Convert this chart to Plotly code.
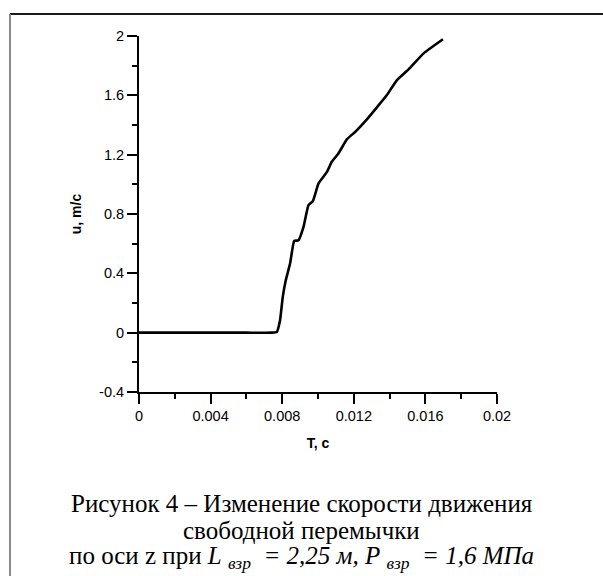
import plotly.graph_objects as go

# Velocity of the free bulkhead along the z axis over time
t_s = [0.0, 0.002, 0.004, 0.006, 0.0074, 0.0077, 0.00788, 0.00803, 0.0082, 0.00844,
       0.00867, 0.00891, 0.00919, 0.00947, 0.00971, 0.01003, 0.0105, 0.01077,
       0.01114, 0.01161, 0.01208, 0.01273, 0.01329, 0.01385, 0.01441, 0.01506,
       0.0159, 0.01698]
u_ms = [0.0, 0.0, 0.0, 0.0, 0.0, 0.005, 0.083, 0.24, 0.353, 0.466,
        0.618, 0.623, 0.713, 0.86, 0.886, 1.006, 1.084, 1.152,
        1.208, 1.303, 1.354, 1.438, 1.519, 1.602, 1.703, 1.775,
        1.883, 1.978]

x_ticks = [0, 0.004, 0.008, 0.012, 0.016, 0.02]
x_tick_text = ["0", "0.004", "0.008", "0.012", "0.016", "0.02"]
y_ticks = [-0.4, 0, 0.4, 0.8, 1.2, 1.6, 2]
y_tick_text = ["-0.4", "0", "0.4", "0.8", "1.2", "1.6", "2"]

caption_lines = [
    "Рисунок 4 – Изменение скорости движения",
    "свободной перемычки",
    "по оси z при <i>L</i>&nbsp;<sub><i>взр</i></sub>&nbsp;<i> = 2,25 м, P</i>"
    "&nbsp;<sub><i>взр</i></sub>&nbsp;<i> = 1,6 МПа</i>",
]

W, H = 603, 576
L, R, T, B = 139, 106, 36, 184
plot_w = W - L - R
plot_h = H - T - B


def px_x(px):
    return (px - L) / plot_w


def px_y(py):
    return (H - B - py) / plot_h


fig = go.Figure()
fig.add_trace(go.Scatter(
    x=t_s, y=u_ms, mode="lines",
    line=dict(color="black", width=2.6, shape="spline", smoothing=0.4),
    showlegend=False, hoverinfo="skip",
))

axis_font = dict(family="Liberation Sans, Arial, sans-serif", size=14.5, color="black")
title_font = dict(family="Liberation Sans, Arial, sans-serif", size=14, color="black")

fig.update_xaxes(
    range=[0, 0.02], tickvals=x_ticks, ticktext=x_tick_text,
    showline=True, linecolor="black", linewidth=2, mirror=False,
    ticks="outside", ticklen=10, tickwidth=2, tickcolor="black",
    minor=dict(ticks="outside", ticklen=5, tickwidth=2, tickcolor="black", dtick=0.002),
    showgrid=False, zeroline=False, tickfont=axis_font,
    title=dict(text="<b>T, c</b>", font=title_font, standoff=15),
)
fig.update_yaxes(
    range=[-0.4, 2], tickvals=y_ticks, ticktext=y_tick_text,
    showline=True, linecolor="black", linewidth=2, mirror=False,
    ticks="outside", ticklen=10, tickwidth=2, tickcolor="black",
    minor=dict(ticks="outside", ticklen=5, tickwidth=2, tickcolor="black", dtick=0.2),
    showgrid=False, zeroline=False, tickfont=axis_font,
    title=dict(text="<b>u, m/c</b>", font=title_font, standoff=14),
)

caption_font = dict(family="Liberation Serif, Times New Roman, serif", size=25, color="black")
for line, py in zip(caption_lines, [503, 530, 557]):
    fig.add_annotation(
        text=line, xref="paper", yref="paper",
        x=px_x(W / 2), y=px_y(py), xanchor="center", yanchor="middle",
        showarrow=False, font=caption_font,
    )

# Page frame: dark top rule and grey left rule
fig.add_shape(type="line", xref="paper", yref="paper",
              x0=px_x(10), x1=px_x(W + 2), y0=px_y(14), y1=px_y(14),
              line=dict(color="#1a1a1a", width=2))
fig.add_shape(type="line", xref="paper", yref="paper",
              x0=px_x(10), x1=px_x(10), y0=px_y(14), y1=px_y(H + 2),
              line=dict(color="#8a8a8a", width=2))

fig.update_layout(
    width=W, height=H,
    margin=dict(l=L, r=R, t=T, b=B, pad=0),
    paper_bgcolor="white", plot_bgcolor="white",
    showlegend=False,
)

fig.write_html("out.html")
